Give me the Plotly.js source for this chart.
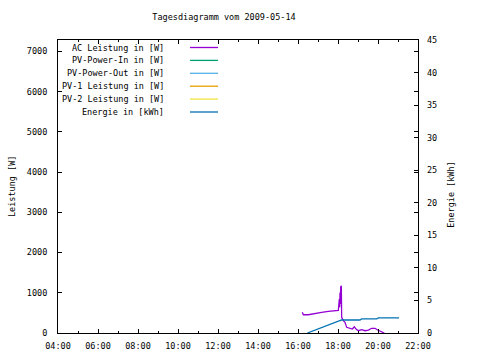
<!DOCTYPE html>
<html>
<head>
<meta charset="utf-8">
<script src="https://cdn.plot.ly/plotly-3.0.1.min.js"></script>
<style>html,body{margin:0;padding:0;background:#fff;}#chart{width:480px;height:360px;}</style>
</head>
<body>
<div id="chart"></div>
<script>
// ---- data ----
const seriesNames = ["AC Leistung in [W]", "PV-Power-In in [W]", "PV-Power-Out in [W]", "PV-1 Leistung in [W]", "PV-2 Leistung in [W]", "Energie in [kWh]"];
const seriesColors = ["#9400D3", "#009E73", "#56B4E9", "#E69F00", "#F0E442", "#0072B2"];

const acTimes = ["16:13","16:16","16:31","16:51","17:11","17:31","17:51","18:01","18:04","18:05","18:06","18:07","18:08","18:09","18:10","18:11","18:16","18:21","18:26","18:36","18:43","18:49","18:54","19:01","19:11","19:21","19:31","19:41","19:51","19:59","20:06","20:11","20:19"];
const acWatts = [514,454,454,489,514,539,546,564,844,640,1000,720,1142,900,1174,390,305,266,141,124,99,156,99,57,82,57,74,117,117,74,42,17,0];

const energyTimes = ["16:28","18:01","18:11","19:06","19:11","19:56","20:01","21:03"];
const energyKWh = [0,1.74,2.0,2.0,2.16,2.16,2.31,2.31];

const day = "2009-05-14 ";
const xTickVals = ["04:00","06:00","08:00","10:00","12:00","14:00","16:00","18:00","20:00","22:00"];

const FONT = "DejaVu Sans Mono";

const traces = [
  {x: acTimes.map(t => day + t), y: acWatts, name: seriesNames[0], type: "scatter", mode: "lines", line: {color: seriesColors[0], width: 1.3}, yaxis: "y"},
  {x: [], y: [], name: seriesNames[1], type: "scatter", mode: "lines", line: {color: seriesColors[1]}},
  {x: [], y: [], name: seriesNames[2], type: "scatter", mode: "lines", line: {color: seriesColors[2]}},
  {x: [], y: [], name: seriesNames[3], type: "scatter", mode: "lines", line: {color: seriesColors[3]}},
  {x: [], y: [], name: seriesNames[4], type: "scatter", mode: "lines", line: {color: seriesColors[4]}},
  {x: energyTimes.map(t => day + t), y: energyKWh, name: seriesNames[5], type: "scatter", mode: "lines", line: {color: seriesColors[5], width: 1.3}, yaxis: "y2"}
];

// custom gnuplot-style legend (text right-aligned, sample to the right)
const annotations = [];
const shapes = [];
const plotTop = 40, plotH = 293;
seriesNames.forEach((n, i) => {
  const py = 47.5 + i * 12.9;
  const yp = 1 - (py - plotTop) / plotH;
  annotations.push({xref: "paper", yref: "paper", x: (166 - 58) / 360, y: yp, xanchor: "right", yanchor: "middle",
    text: n, showarrow: false, font: {family: FONT, size: 8.5, color: "#000"}});
  shapes.push({type: "line", xref: "paper", yref: "paper", x0: (190 - 58) / 360, x1: (218 - 58) / 360, y0: yp, y1: yp,
    line: {color: seriesColors[i], width: 1.3}});
});
annotations.push({xref: "paper", yref: "paper", x: (11.5 - 58) / 360, y: 0.5, textangle: -90, text: "Leistung [W]",
  showarrow: false, xanchor: "center", yanchor: "middle", font: {family: FONT, size: 8.5, color: "#000"}});
annotations.push({xref: "paper", yref: "paper", x: (451 - 58) / 360, y: 0.475, textangle: -90, text: "Energie [kWh]",
  showarrow: false, xanchor: "center", yanchor: "middle", font: {family: FONT, size: 8.5, color: "#000"}});

const layout = {
  width: 480, height: 360,
  margin: {l: 58, r: 62, t: 40, b: 27},
  paper_bgcolor: "#fff", plot_bgcolor: "#fff",
  showlegend: false,
  font: {family: FONT, size: 8.5, color: "#000"},
  title: {text: "Tagesdiagramm vom 2009-05-14", x: 224 / 480, xanchor: "center", y: 1 - 17 / 360, yanchor: "middle",
    font: {family: FONT, size: 8.5, color: "#000"}},
  xaxis: {
    type: "date", range: [day + "04:00", day + "22:00"],
    tickvals: xTickVals.map(t => day + t), ticktext: xTickVals,
    ticks: "inside", ticklen: 4, tickcolor: "#000", tickwidth: 1,
    minor: {dtick: 3600000, ticks: "inside", ticklen: 2, tickcolor: "#000", showgrid: false},
    showline: true, linecolor: "#000", linewidth: 1, mirror: "ticks",
    showgrid: false, zeroline: false, ticklabelstandoff: 5,
    tickfont: {family: FONT, size: 8.5, color: "#000"}
  },
  yaxis: {
    range: [0, 7280], tickvals: [0,1000,2000,3000,4000,5000,6000,7000],
    ticks: "inside", ticklen: 4, tickcolor: "#000",
    showline: true, linecolor: "#000", linewidth: 1, mirror: "ticks",
    showgrid: false, zeroline: false, ticklabelstandoff: 8,
    tickfont: {family: FONT, size: 8.5, color: "#000"}
  },
  yaxis2: {
    range: [0, 45], tickvals: [0,5,10,15,20,25,30,35,40,45], overlaying: "y", side: "right",
    ticks: "inside", ticklen: 4, tickcolor: "#000",
    showline: false, showgrid: false, zeroline: false, ticklabelstandoff: 8,
    tickfont: {family: FONT, size: 8.5, color: "#000"}
  },
  annotations: annotations,
  shapes: shapes
};

Plotly.newPlot("chart", traces, layout, {staticPlot: true, displayModeBar: false});
</script>
</body>
</html>
